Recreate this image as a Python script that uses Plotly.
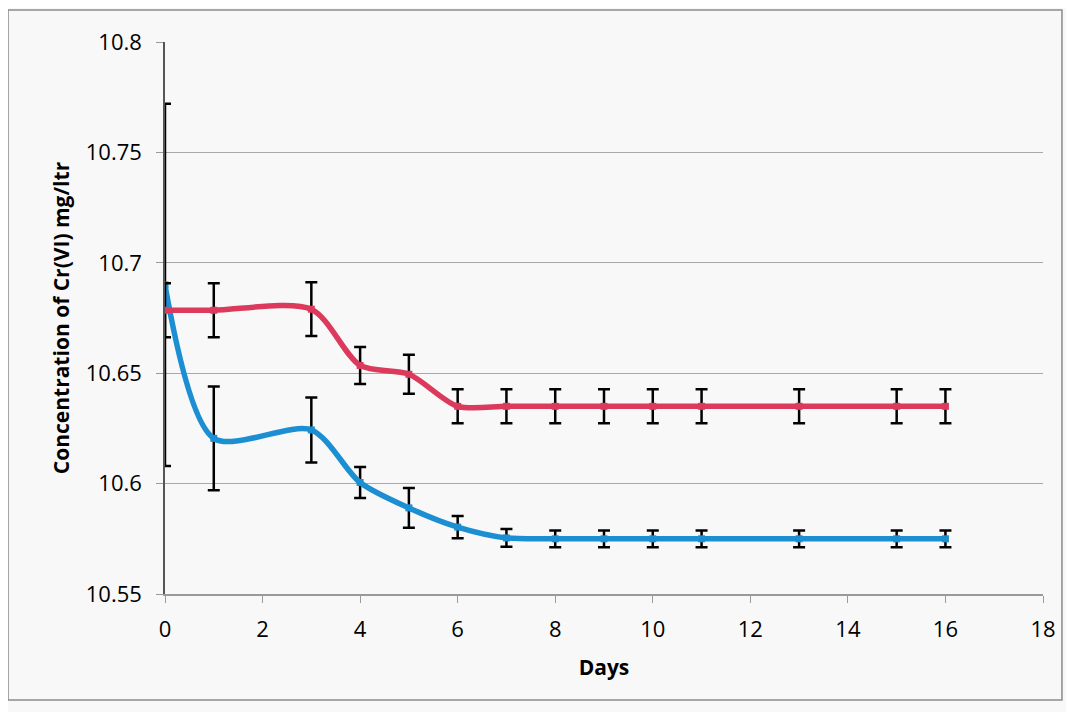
import plotly.graph_objects as go

days = [0, 1, 3, 4, 5, 6, 7, 8, 9, 10, 11, 13, 15, 16]
red_vals = [10.6785, 10.6785, 10.679, 10.6535, 10.6495, 10.635, 10.635, 10.635, 10.635, 10.635, 10.635, 10.635, 10.635, 10.635]
red_err = [0.0122, 0.0122, 0.0122, 0.0084, 0.0088, 0.0077, 0.0077, 0.0077, 0.0077, 0.0077, 0.0077, 0.0077, 0.0077, 0.0077]
blue_vals = [10.69, 10.6205, 10.6243, 10.6005, 10.589, 10.5803, 10.5754, 10.575, 10.575, 10.575, 10.575, 10.575, 10.575, 10.575]
blue_err = [0.082, 0.0235, 0.0147, 0.007, 0.009, 0.005, 0.004, 0.0038, 0.0038, 0.0038, 0.0038, 0.0038, 0.0038, 0.0038]
y_ticks = [10.55, 10.6, 10.65, 10.7, 10.75, 10.8]
y_tick_text = ["10.55", "10.6", "10.65", "10.7", "10.75", "10.8"]
x_ticks = [0, 2, 4, 6, 8, 10, 12, 14, 16, 18]

RED = "#dc3a5c"
BLUE = "#1b8fd2"

fig = go.Figure()
fig.add_trace(go.Scatter(
    x=days, y=blue_vals, mode="lines+markers",
    line=dict(color=BLUE, width=5.5, shape="spline", smoothing=0.8),
    marker=dict(color=BLUE, size=7, symbol="square"),
    error_y=dict(type="data", array=blue_err, visible=True, color="black", thickness=2.5, width=6),
    showlegend=False,
))
fig.add_trace(go.Scatter(
    x=days, y=red_vals, mode="lines+markers",
    line=dict(color=RED, width=5.5, shape="spline", smoothing=0.8),
    marker=dict(color=RED, size=7, symbol="square"),
    error_y=dict(type="data", array=red_err, visible=True, color="black", thickness=2.5, width=6),
    showlegend=False,
))

fig.update_layout(
    width=1066, height=704,
    margin=dict(l=157, r=31, t=34, b=118),
    paper_bgcolor="#f8f8f8", plot_bgcolor="#f8f8f8",
    font=dict(family="Open Sans, Lato, sans-serif", color="black"),
    xaxis=dict(
        range=[0, 18], tickvals=x_ticks, showgrid=False, zeroline=False,
        showline=True, linecolor="#9a9a9a", linewidth=1.5,
        ticks="outside", ticklen=7, tickcolor="#9a9a9a",
        tickfont=dict(size=22), ticklabelstandoff=8,
        title=dict(text="<b>Days</b>", font=dict(size=21), standoff=18),
    ),
    yaxis=dict(
        range=[10.55, 10.8], tickvals=y_ticks, ticktext=y_tick_text,
        showgrid=True, gridcolor="#a8a8a8", gridwidth=1, zeroline=False,
        showline=True, linecolor="#555555", linewidth=1.5,
        ticks="outside", ticklen=7, tickcolor="#9a9a9a",
        tickfont=dict(size=22), ticklabelstandoff=10,
        title=dict(text="<b>Concentration of Cr(VI) mg/ltr</b>", font=dict(size=21), standoff=10),
    ),
    shapes=[dict(
        type="rect", xref="paper", yref="paper",
        x0=-0.1788, x1=1.0216, y0=-0.192, y1=1.058,
        line=dict(color="#8a8a8a", width=1.5), fillcolor="rgba(0,0,0,0)", layer="below",
    )],
)

fig.write_html("out.html")
